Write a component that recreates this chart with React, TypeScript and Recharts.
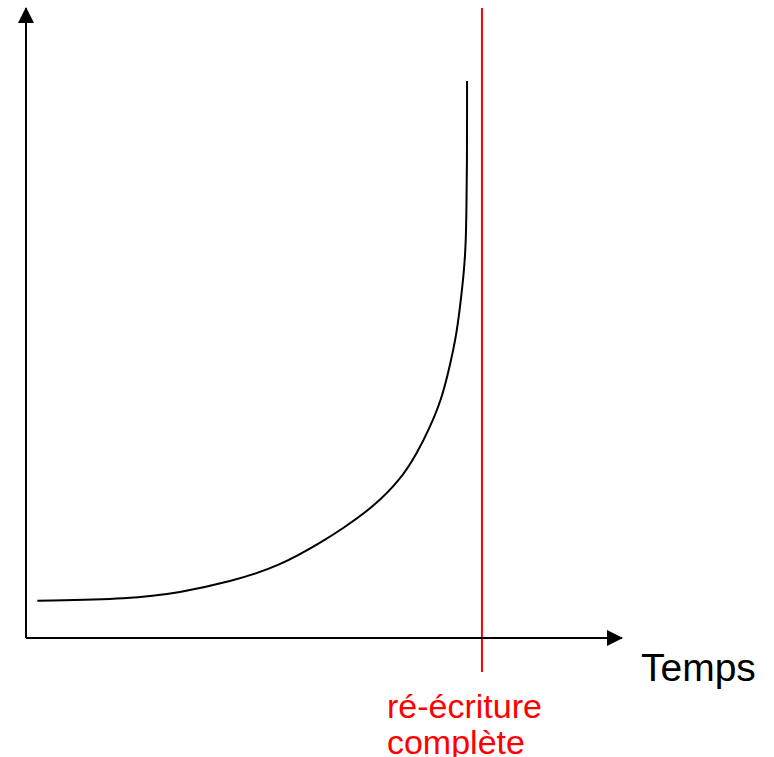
import React from 'react';
import { LineChart, Line, XAxis, YAxis, ReferenceLine, ReferenceDot } from 'recharts';

// Curve: cost of change over time (time 0-100, cost 0-100)
const timeValues = [1.9, 17.5, 25.8, 34.2, 42.6, 50.2, 52.7, 58.3, 62.8, 65.6, 67.8, 69.7, 71.1, 72.3, 73.1, 73.5, 73.8, 73.9, 74.0, 74.0, 74.0];
const costValues = [5.9, 6.2, 7.2, 8.9, 11.4, 15.6, 17.1, 20.8, 25.1, 29.3, 33.5, 37.8, 43.1, 48.4, 54.8, 58.4, 62.7, 67.9, 75.9, 84.0, 88.4];

const rewriteTime = 76.5;
const rewriteLines = ['ré-écriture', 'complète'];
const xAxisLabel = 'Temps';

const data = timeValues.map((t, i) => ({ time: t, cost: costValues[i] }));

const FONT = '"Liberation Sans", Arial, sans-serif';

const UpArrow = (props: any) => {
  const { cx, cy } = props;
  return <path d={`M${cx},${cy - 1} L${cx - 8},${cy + 15} L${cx + 8},${cy + 15} Z`} fill="#000" />;
};

const RightArrow = (props: any) => {
  const { cx, cy } = props;
  return <path d={`M${cx + 1},${cy} L${cx - 15},${cy - 8} L${cx - 15},${cy + 8} Z`} fill="#000" />;
};

const RewriteLabel = (props: any) => {
  const { cx, cy } = props;
  return (
    <text x={cx - 95} y={cy + 46} fill="#ff0000" fontSize={34} fontFamily={FONT}>
      {rewriteLines.map((line, i) => (
        <tspan key={line} x={cx - 95} dy={i === 0 ? 0 : 36}>
          {line}
        </tspan>
      ))}
    </text>
  );
};

const TempsLabel = (props: any) => {
  const { viewBox } = props;
  return (
    <text x={viewBox.x + viewBox.width + 19} y={viewBox.y + 43} fill="#000" fontSize={39} fontFamily={FONT}>
      {xAxisLabel}
    </text>
  );
};

const App = () => {
  return (
    <>
      <style>{'body { margin: 0; }'}</style>
      <LineChart width={774} height={757} data={data} margin={{ top: 8, right: 152, bottom: 0, left: 0 }}>
        <XAxis
          dataKey="time"
          type="number"
          domain={[0, 100]}
          tick={false}
          tickLine={false}
          height={119}
          axisLine={{ stroke: '#000', strokeWidth: 2 }}
          label={TempsLabel}
        />
        <YAxis
          type="number"
          domain={[0, 100]}
          tick={false}
          tickLine={false}
          width={26}
          axisLine={{ stroke: '#000', strokeWidth: 2 }}
        />
        <ReferenceLine
          segment={[{ x: rewriteTime, y: 100 }, { x: rewriteTime, y: -5.4 }]}
          stroke="#ff0000"
          strokeWidth={2}
          ifOverflow="visible"
        />
        <ReferenceDot x={0} y={100} ifOverflow="visible" shape={UpArrow} />
        <ReferenceDot x={100} y={0} ifOverflow="visible" shape={RightArrow} />
        <ReferenceDot x={rewriteTime} y={-5.4} ifOverflow="visible" shape={RewriteLabel} />
        <Line
          type="basis"
          dataKey="cost"
          stroke="#000"
          strokeWidth={2}
          dot={false}
          isAnimationActive={false}
        />
      </LineChart>
    </>
  );
};

export default App;
